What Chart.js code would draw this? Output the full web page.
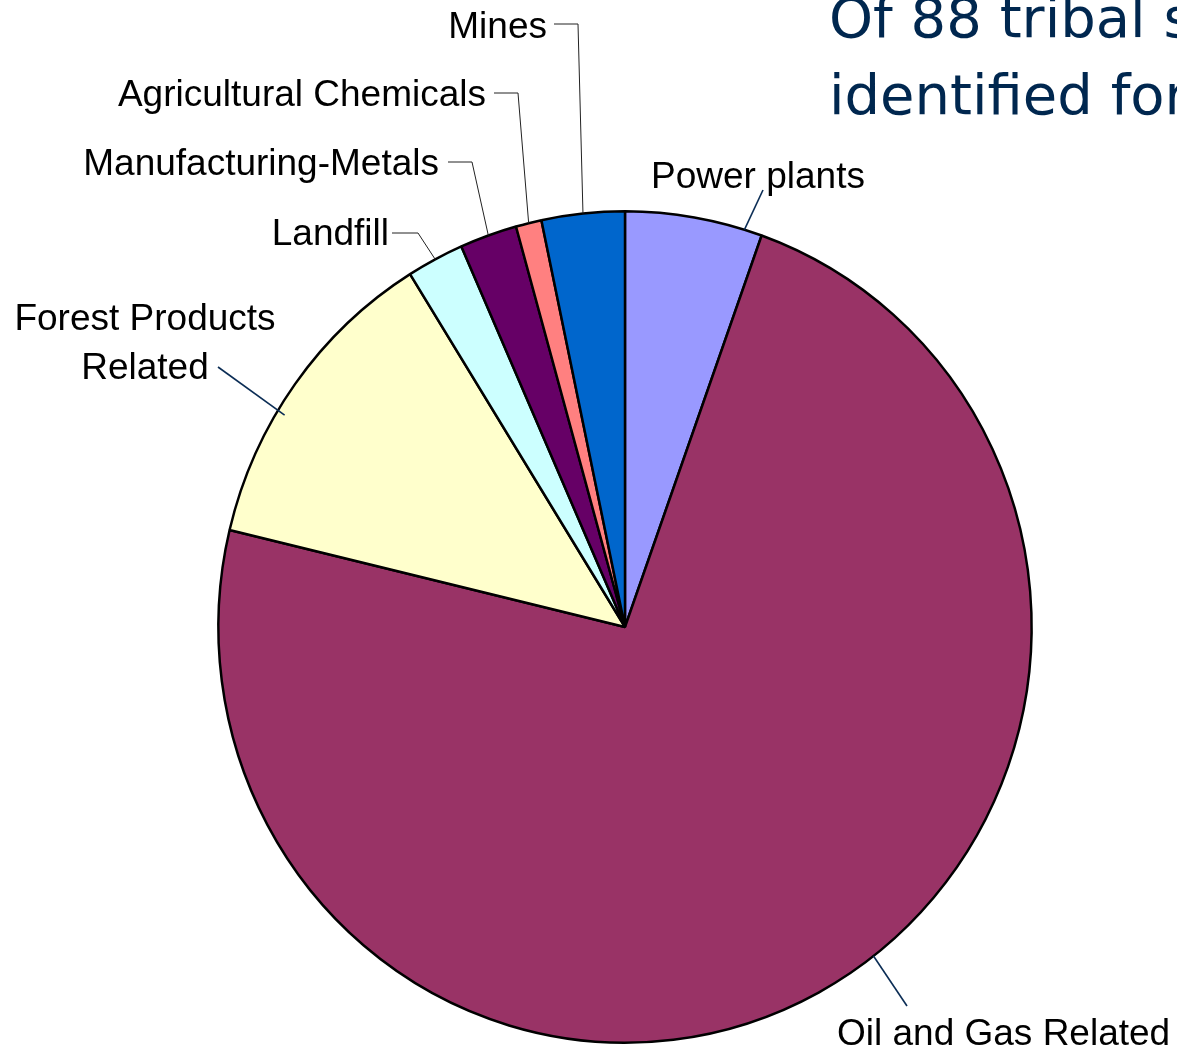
<!DOCTYPE html>
<html><head><meta charset="utf-8">
<script src="https://cdn.jsdelivr.net/npm/chart.js@4/dist/chart.umd.min.js"></script>
<style>
html,body{margin:0;padding:0;background:#fff;overflow:hidden;width:1177px;height:1053px;}
#wrap{position:relative;width:1177px;height:1053px;overflow:hidden;}
#title{position:absolute;left:829px;top:-21px;font-family:"DejaVu Sans",sans-serif;font-size:56px;line-height:77px;color:#00274f;white-space:nowrap;}
canvas{position:absolute;left:0;top:0;}
</style></head><body>
<div id="wrap"><canvas id="c" width="1177" height="1053"></canvas>
<div id="title">Of 88 tribal sites<br>identified for</div></div>
<script>
// ---- data ----
const categories = ["Power plants", "Oil and Gas Related", "Forest Products Related", "Landfill", "Manufacturing-Metals", "Agricultural Chemicals", "Mines"];
const siteCounts = [4.8, 64.5, 10.9, 2.0, 2.0, 0.9, 2.9];
const labelLines = [["Power plants"], ["Oil and Gas Related"], ["Forest Products", "Related"], ["Landfill"], ["Manufacturing-Metals"], ["Agricultural Chemicals"], ["Mines"]];

// ---- styles / layout ----
const sliceColors = ["#9999FF", "#993366", "#FFFFCC", "#CCFFFF", "#660066", "#FF8080", "#0066CC"];
const pieScaleX = 0.990, pieScaleY = 1.012;   // slight vertical ellipse as in the reference
const labelLayout = [
  {x: 758, y: 188, align: "center", pts: [[763, 190]], frac: 0.87, rf: 1.0, color: "#0b2d55", lw: 1.6},
  {x: 837, y: 1045, align: "left", pts: [[907, 1006]], frac: 0.465, rf: 1.0, color: "#0b2d55", lw: 1.6},
  {x: 145, y: 330, align: "center", lh: 49, pts: [[218, 367]], frac: 0.40, rf: 0.98, color: "#0b2d55", lw: 1.6},
  {x: 389, y: 245, align: "right", pts: [[392, 233], [418, 233]], frac: 0.5, rf: 1.0, color: "#222", lw: 1},
  {x: 439, y: 175, align: "right", pts: [[448, 162], [472, 162]], frac: 0.5, rf: 1.0, color: "#222", lw: 1},
  {x: 486, y: 106, align: "right", pts: [[494, 93], [518, 93]], frac: 0.5, rf: 1.0, color: "#222", lw: 1},
  {x: 547, y: 38, align: "right", pts: [[554, 24], [578, 24]], frac: 0.5, rf: 1.0, color: "#222", lw: 1}
];

const ellipsePlugin = {
  id: "ellipse",
  beforeDatasetsDraw(chart) {
    const a = chart.getDatasetMeta(0).data[0];
    const ctx = chart.ctx;
    ctx.save();
    ctx.translate(a.x, a.y);
    ctx.scale(pieScaleX, pieScaleY);
    ctx.translate(-a.x, -a.y);
  },
  afterDatasetsDraw(chart) {
    chart.ctx.restore();
  }
};

const labelPlugin = {
  id: "sliceLabels",
  afterDraw(chart) {
    const ctx = chart.ctx;
    const arcs = chart.getDatasetMeta(0).data;
    ctx.save();
    arcs.forEach((arc, i) => {
      const L = labelLayout[i];
      const p = arc.getProps(["x", "y", "startAngle", "endAngle", "outerRadius"], true);
      const a = p.startAngle + L.frac * (p.endAngle - p.startAngle);
      const r = p.outerRadius * L.rf;
      const ex = p.x + Math.cos(a) * r * pieScaleX, ey = p.y + Math.sin(a) * r * pieScaleY;
      ctx.beginPath();
      ctx.strokeStyle = L.color;
      ctx.lineWidth = L.lw;
      ctx.moveTo(L.pts[0][0], L.pts[0][1]);
      for (let k = 1; k < L.pts.length; k++) ctx.lineTo(L.pts[k][0], L.pts[k][1]);
      ctx.lineTo(ex, ey);
      ctx.stroke();
      ctx.fillStyle = "#000";
      ctx.font = '37px "Liberation Sans", Arial, sans-serif';
      ctx.textAlign = L.align;
      ctx.textBaseline = "alphabetic";
      labelLines[i].forEach((t, j) => ctx.fillText(t, L.x, L.y + j * (L.lh || 0)));
    });
    ctx.restore();
  }
};

new Chart(document.getElementById("c"), {
  type: "pie",
  data: {
    labels: categories,
    datasets: [{
      data: siteCounts,
      backgroundColor: sliceColors,
      borderColor: "#000",
      borderWidth: 2.5
    }]
  },
  options: {
    responsive: false,
    animation: false,
    devicePixelRatio: 1,
    layout: {padding: {left: 213, right: 140, top: 215, bottom: 14}},
    plugins: {legend: {display: false}, tooltip: {enabled: false}, title: {display: false}}
  },
  plugins: [ellipsePlugin, labelPlugin]
});
</script>
</body></html>
